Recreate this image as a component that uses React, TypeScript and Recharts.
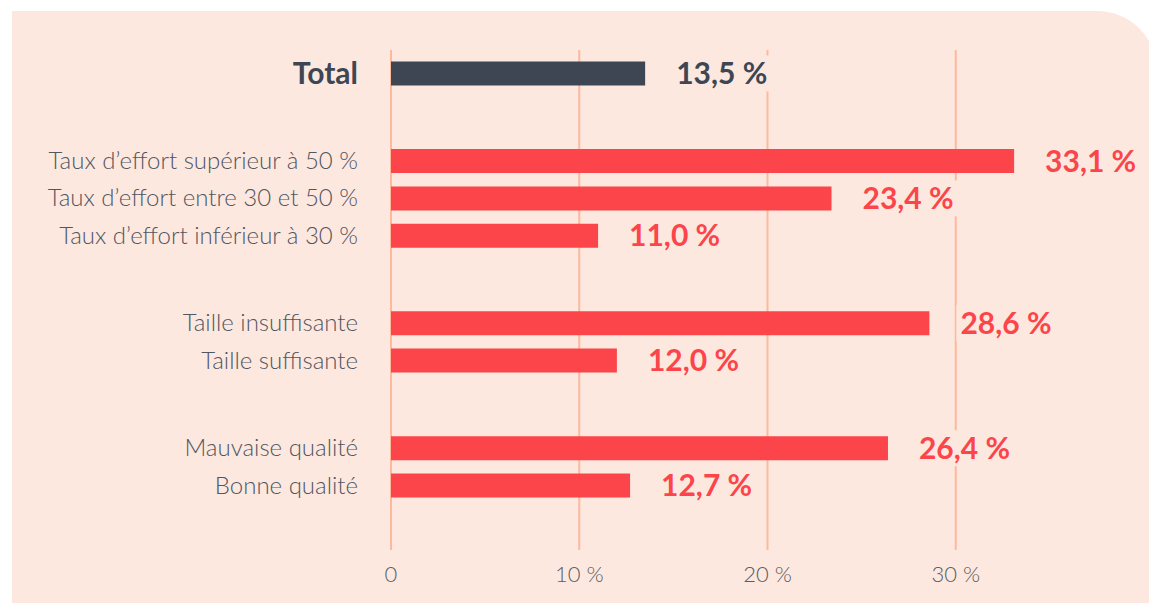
import { Bar, BarChart, CartesianGrid, Cell, LabelList, XAxis, YAxis } from 'recharts';

// rows, top to bottom
const categories = [
  'Total',
  'Taux d’effort supérieur à 50 %',
  'Taux d’effort entre 30 et 50 %',
  'Taux d’effort inférieur à 30 %',
  'Taille insuffisante',
  'Taille suffisante',
  'Mauvaise qualité',
  'Bonne qualité',
];
const values = [13.5, 33.1, 23.4, 11.0, 28.6, 12.0, 26.4, 12.7];
// number of rows in each block
const groupSizes = [1, 3, 2, 2];
const xTicks = [0, 10, 20, 30];
const X_MAX = 40;

const BG = '#fde8df';
const RED = '#fb454a';
const DARK = '#3e4654';
const GRID = '#fdb99c';
const FONT = 'Lato, "Open Sans", sans-serif';

// extra space between blocks, in row units
const BLOCK_GAP = 2.35;

const rows = (() => {
  const out: { name: string; value: number; pos: number }[] = [];
  let i = 0;
  groupSizes.forEach((size, g) => {
    for (let k = 0; k < size; k++) {
      out.push({ name: categories[i], value: values[i], pos: i + g * (BLOCK_GAP - 1) });
      i++;
    }
  });
  return out;
})();

const lastPos = rows[rows.length - 1].pos;
const nameByPos = new Map(rows.map((r) => [r.pos, r.name]));

function fmt(v: number) {
  return v.toFixed(1).replace('.', ',') + '\u00a0%';
}

function CategoryTick(props: any) {
  const { x, y, payload } = props;
  const name = nameByPos.get(payload.value) ?? '';
  const isTotal = name === 'Total';
  return (
    <text
      x={x}
      y={y}
      dy="0.35em"
      textAnchor="end"
      fontFamily={FONT}
      fontSize={isTotal ? 30 : 24}
      fontWeight={isTotal ? 700 : 300}
      fill={isTotal ? DARK : '#505662'}
    >
      {name}
    </text>
  );
}

function ValueLabel(props: any) {
  const { x, y, width, height, value, index } = props;
  const tx = x + width + 31;
  const cy = y + height / 2;
  return (
    <g>
      <rect x={tx - 4} y={cy - 18} width={106} height={36} fill={BG} />
      <text
        x={tx}
        y={cy}
        dy="0.36em"
        fontFamily={FONT}
        fontSize={30}
        fontWeight={700}
        fill={index === 0 ? DARK : RED}
      >
        {fmt(value)}
      </text>
    </g>
  );
}

export default function App() {
  return (
    <div style={{ position: 'fixed', inset: 0, overflow: 'hidden', background: '#fff' }}>
      <div
        style={{
          position: 'absolute',
          left: 12,
          top: 11,
          width: 1145,
          height: 640,
          background: BG,
          borderTopRightRadius: 60,
        }}
      />
      <div style={{ position: 'absolute', left: 0, top: 0 }}>
        <BarChart
          width={1149}
          height={603}
          data={rows}
          layout="vertical"
          margin={{ top: 50, right: 5, bottom: 13, left: 0 }}
        >
          <CartesianGrid
            horizontal={false}
            stroke={GRID}
            strokeWidth={2}
            verticalCoordinatesGenerator={({ offset }: any) =>
              xTicks.map((t) => offset.left + (t / X_MAX) * offset.width)
            }
          />
          <XAxis
            type="number"
            domain={[0, X_MAX]}
            ticks={xTicks}
            axisLine={false}
            tickLine={false}
            tickSize={0}
            tickMargin={16}
            height={40}
            tickFormatter={(v: number) => (v === 0 ? '0' : `${v}\u00a0%`)}
            tick={{ fontFamily: FONT, fontSize: 22, fontWeight: 300, fill: '#595e66' }}
          />
          <YAxis
            type="number"
            dataKey="pos"
            domain={[-0.62, lastPos + 1.74]}
            ticks={rows.map((r) => r.pos)}
            width={391}
            axisLine={false}
            tickLine={false}
            tickSize={0}
            tickMargin={33}
            interval={0}
            tick={<CategoryTick />}
          />
          <Bar dataKey="value" barSize={24} isAnimationActive={false}>
            {rows.map((r, i) => (
              <Cell key={r.name} fill={i === 0 ? DARK : RED} />
            ))}
            <LabelList dataKey="value" content={<ValueLabel />} />
          </Bar>
        </BarChart>
      </div>
    </div>
  );
}
